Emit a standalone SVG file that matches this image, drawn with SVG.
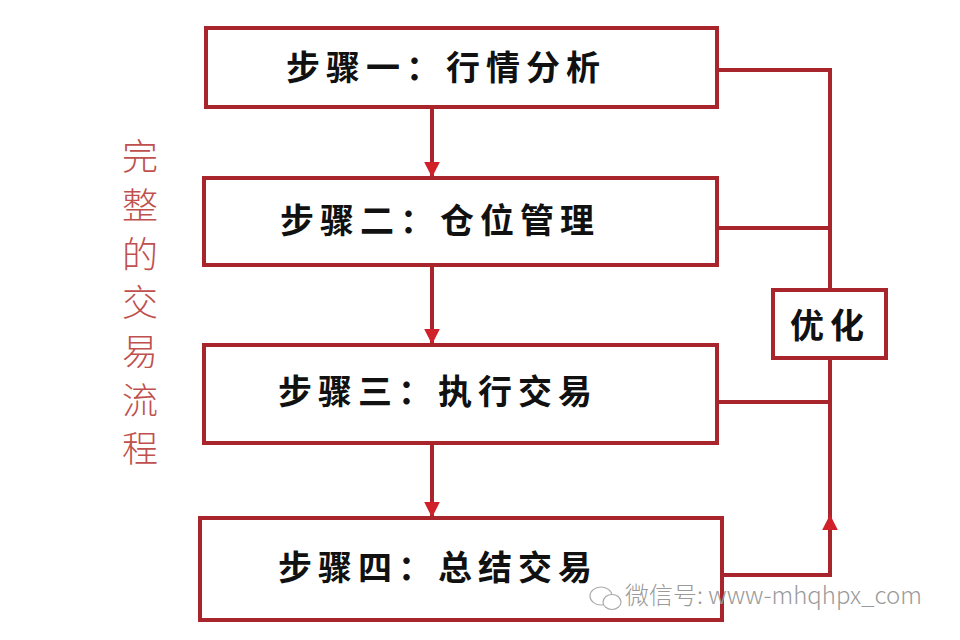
<svg xmlns="http://www.w3.org/2000/svg" width="960" height="640" viewBox="0 0 960 640">
<style>
.box{fill:#fff;stroke:#A8262B;stroke-width:4}
.ln{fill:none;stroke:#A8262B;stroke-width:4}
.t{font-family:"Noto Sans CJK SC",sans-serif;font-weight:bold;font-size:34px;fill:#111;letter-spacing:6px}
.side{font-family:"Noto Sans CJK SC",sans-serif;font-weight:300;font-size:36px;fill:#C0504D}
.wm{font-family:"Noto Sans CJK SC","Liberation Sans",sans-serif;font-size:24px;fill:#9a9a9a;font-weight:300}
</style>
<defs>
<marker id="ah" viewBox="0 0 10 10" refX="9" refY="5" markerWidth="4" markerHeight="4" orient="auto" markerUnits="strokeWidth">
<path d="M0,0L10,5L0,10z" fill="#D0202A"/>
</marker>
</defs>
<rect width="960" height="640" fill="#fff"/>
<g id="connectors">
<path class="ln" d="M432,107V176" marker-end="url(#ah)"/>
<path class="ln" d="M432,265V343" marker-end="url(#ah)"/>
<path class="ln" d="M432,443V516" marker-end="url(#ah)"/>
<path class="ln" d="M717,70H830V290"/>
<path class="ln" d="M717,228H830"/>
<path class="ln" d="M717,402H830"/>
<path class="ln" d="M722,575H830V358"/>
<path class="ln" d="M830,560V516" marker-end="url(#ah)"/>
</g>
<g id="step1"><rect class="box" x="206" y="28" width="511" height="79"/><text class="t" x="286" y="80">步骤一：行情分析</text></g>
<g id="step2"><rect class="box" x="204" y="178" width="513" height="87"/><text class="t" x="280" y="233">步骤二：仓位管理</text></g>
<g id="step3"><rect class="box" x="204" y="345" width="513" height="98"/><text class="t" x="278" y="404">步骤三：执行交易</text></g>
<g id="step4"><rect class="box" x="200" y="518" width="522" height="102"/><text class="t" x="278" y="580">步骤四：总结交易</text></g>
<g id="optimize"><rect class="box" x="773" y="290" width="113" height="68"/><text class="t" x="830" y="338" text-anchor="middle" letter-spacing="2" font-size="36">优化</text></g>
<g id="side-label">
<text class="side" x="140" y="170" text-anchor="middle">完</text>
<text class="side" x="140" y="219" text-anchor="middle">整</text>
<text class="side" x="140" y="268" text-anchor="middle">的</text>
<text class="side" x="140" y="316" text-anchor="middle">交</text>
<text class="side" x="140" y="365" text-anchor="middle">易</text>
<text class="side" x="140" y="414" text-anchor="middle">流</text>
<text class="side" x="140" y="462" text-anchor="middle">程</text>
</g>
<g id="watermark">
<ellipse cx="601" cy="596" rx="11" ry="9" fill="#fff" stroke="#aaa" stroke-width="1.2"/>
<ellipse cx="612" cy="602" rx="9" ry="7.5" fill="#fff" stroke="#aaa" stroke-width="1.2"/>
<text class="wm" x="625" y="604">微信号: www-mhqhpx_com</text>
</g>
</svg>
